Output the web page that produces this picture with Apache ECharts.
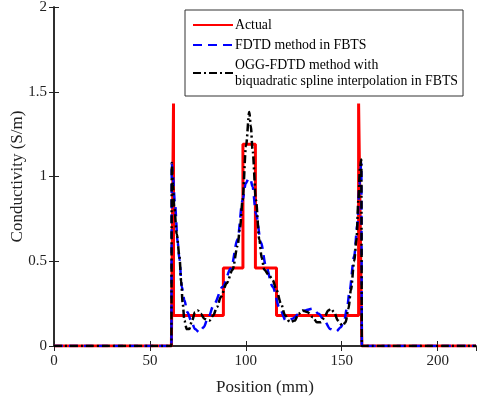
<!DOCTYPE html>
<html>
<head>
<meta charset="utf-8">
<script src="https://cdn.jsdelivr.net/npm/echarts@6/dist/echarts.min.js"></script>
<style>
  html, body { margin: 0; padding: 0; background: #fff; }
  #chart { width: 477px; height: 403px; }
</style>
</head>
<body>
<div id="chart"></div>
<script>
// [position (mm), conductivity (S/m)]
const actual = [
  [0, 0], [61.2, 0], [62.3, 1.43], [62.3, 0.18], [88.3, 0.18], [88.3, 0.46],
  [98.5, 0.46], [98.5, 1.19], [105, 1.19], [105, 0.46], [116, 0.46], [116, 0.18],
  [158.8, 0.18], [158.8, 1.43], [160.5, 0], [220, 0]
];

const fdtd = [
  [0, 0], [61.2, 0], [61.4, 1.08], [62, 1.0], [63, 0.85], [64.5, 0.61], [65.4, 0.51],
  [66.6, 0.35], [68, 0.27], [69.5, 0.2], [71.5, 0.15], [73.5, 0.1], [75.8, 0.08],
  [78, 0.11], [80.1, 0.16], [83.6, 0.25], [87.9, 0.35], [92.3, 0.46], [95.7, 0.63],
  [98.3, 0.86], [100, 0.96], [101.5, 0.99], [102.5, 0.98], [103.5, 0.94], [105.3, 0.78],
  [107.9, 0.61], [110.5, 0.47], [114, 0.35], [117.4, 0.23], [120.9, 0.15], [124, 0.16],
  [127.9, 0.19], [131, 0.21], [134.8, 0.22], [138, 0.19], [140.9, 0.15], [144, 0.1],
  [147, 0.085], [149.5, 0.11], [151.3, 0.15], [153, 0.24], [153.9, 0.31], [156.5, 0.53],
  [158.2, 0.72], [159.2, 0.95], [160.2, 1.08], [160.5, 0], [220, 0]
];

const ogg = [
  [0, 0], [61.2, 0], [61.4, 1.08], [62, 0.95], [62.7, 0.82], [64, 0.66], [65.4, 0.53],
  [66.3, 0.38], [67.1, 0.25], [68, 0.15], [69.2, 0.1], [70.5, 0.1], [72, 0.15],
  [73.5, 0.2], [74.9, 0.21], [76.5, 0.19], [78.5, 0.16], [81, 0.15], [83, 0.18],
  [85, 0.23], [87, 0.29], [90, 0.37], [93.1, 0.45], [95.7, 0.59], [97, 0.7],
  [98.3, 0.86], [100.1, 1.18], [101.8, 1.38], [102.6, 1.3], [103.5, 1.16], [105.3, 0.86],
  [107, 0.63], [108.3, 0.52], [109.6, 0.45], [112, 0.42], [114, 0.39], [116, 0.33],
  [118.3, 0.25], [120.5, 0.18], [123, 0.14], [125.5, 0.15], [127.5, 0.19], [129.6, 0.21],
  [132, 0.2], [135, 0.17], [137, 0.14], [139.2, 0.14], [141, 0.17], [143, 0.21],
  [144.4, 0.22], [146, 0.2], [148, 0.15], [150.4, 0.12], [152, 0.14], [153.5, 0.22],
  [154.8, 0.33], [156.5, 0.5], [157.7, 0.63], [158.7, 0.86], [159.5, 1.05], [160.2, 1.1],
  [160.5, 0], [220, 0]
];

const seriesNames = [
  'Actual',
  'FDTD method in FBTS',
  'OGG-FDTD method with\nbiquadratic spline interpolation in FBTS'
];

const font = 'Liberation Serif';
const axisColor = '#222';

const chart = echarts.init(document.getElementById('chart'));

const frameAxis = {
  min: 0,
  axisLine: { show: true, lineStyle: { color: axisColor, width: 1.5 } },
  axisTick: { show: true, inside: true, length: 5, lineStyle: { color: axisColor } },
  splitLine: { show: false }
};

chart.setOption({
  animation: false,
  backgroundColor: '#fff',
  grid: { left: 54, right: 1, top: 7, bottom: 57, outerBoundsMode: 'none', containLabel: false },
  legend: {
    orient: 'vertical',
    left: 185,
    top: 10,
    padding: [7, 5, 7, 7],
    itemWidth: 40,
    itemHeight: 12,
    itemGap: 4,
    borderColor: '#333',
    borderWidth: 1,
    backgroundColor: '#fff',
    itemStyle: { opacity: 0 },
    textStyle: { fontFamily: font, fontSize: 13.8, lineHeight: 16, color: '#000', padding: [0, 0, 0, -3] },
    data: seriesNames
  },
  xAxis: [
    Object.assign({}, frameAxis, {
      type: 'value', max: 220, interval: 50, position: 'bottom',
      name: 'Position (mm)', nameLocation: 'middle', nameGap: 33, nameMoveOverlap: false,
      nameTextStyle: { fontFamily: font, fontSize: 17, color: axisColor },
      axisLabel: { fontFamily: font, fontSize: 15, color: axisColor, margin: 8, showMaxLabel: false }
    }),
    Object.assign({}, frameAxis, {
      type: 'value', max: 220, interval: 50, position: 'top',
      axisLabel: { show: false }
    })
  ],
  yAxis: [
    Object.assign({}, frameAxis, {
      type: 'value', max: 2, interval: 0.5, position: 'left',
      name: 'Conductivity (S/m)', nameLocation: 'middle', nameGap: 28, nameMoveOverlap: false,
      nameTextStyle: { fontFamily: font, fontSize: 17, color: axisColor },
      axisLabel: { fontFamily: font, fontSize: 15, color: axisColor, margin: 7 }
    }),
    Object.assign({}, frameAxis, {
      type: 'value', max: 2, interval: 0.5, position: 'right',
      axisLabel: { show: false }
    })
  ],
  series: [
    {
      name: seriesNames[0], type: 'line', data: actual, symbol: 'none',
      color: '#ff0000',
      lineStyle: { color: '#ff0000', width: 3 }
    },
    {
      name: seriesNames[1], type: 'line', data: fdtd, symbol: 'none',
      smooth: 0.3, smoothMonotone: 'x',
      color: '#0000ff',
      lineStyle: { color: '#0000ff', width: 2.5, type: [9, 6] }
    },
    {
      name: seriesNames[2], type: 'line', data: ogg, symbol: 'none',
      smooth: 0.3, smoothMonotone: 'x',
      color: '#000',
      lineStyle: { color: '#000', width: 2.5, type: [8, 3, 2, 3] }
    }
  ]
});
</script>
</body>
</html>
